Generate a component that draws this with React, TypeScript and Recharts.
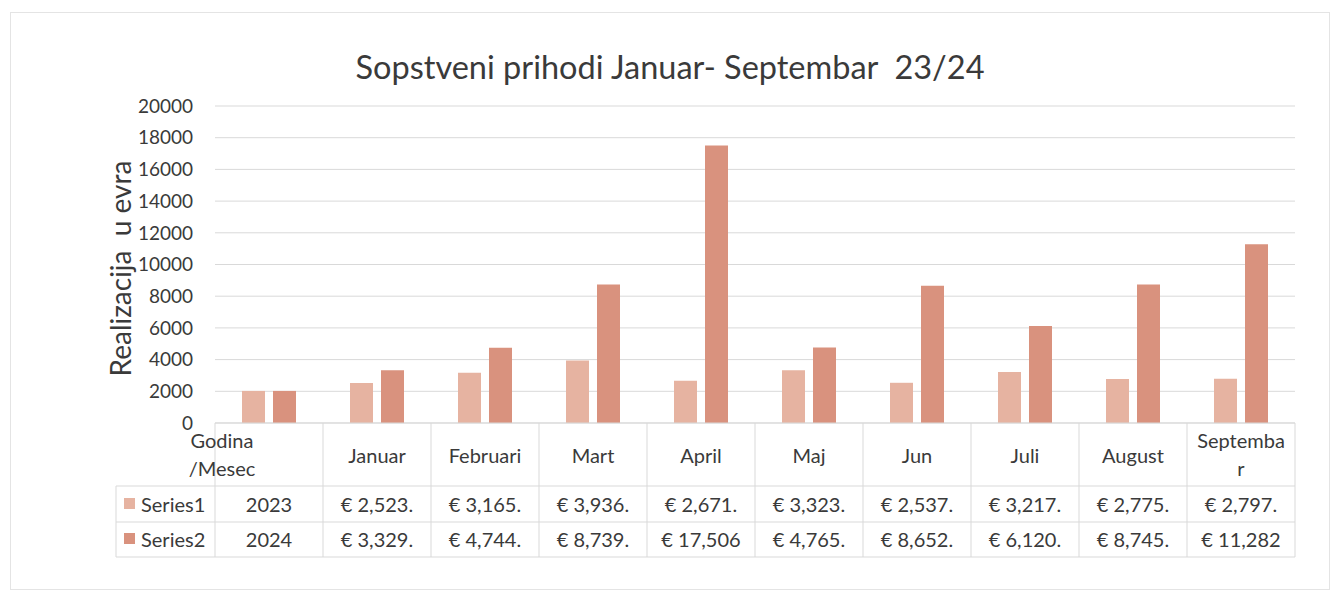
import React from "react";
import { BarChart, Bar, XAxis, YAxis, CartesianGrid, Label } from "recharts";

// kategorije (zaglavlje tabele) i vrednosti serija
const categories = ["Godina /Mesec", "Januar", "Februari", "Mart", "April", "Maj", "Jun", "Juli", "August", "Septembar"];
const headerLines = [["Godina", "/Mesec"], ["Januar"], ["Februari"], ["Mart"], ["April"], ["Maj"], ["Jun"], ["Juli"], ["August"], ["Septemba", "r"]];
const seriesNames = ["Series1", "Series2"];
const series1 = [2023, 2523, 3165, 3936, 2671, 3323, 2537, 3217, 2775, 2797];
const series2 = [2024, 3329, 4744, 8739, 17506, 4765, 8652, 6120, 8745, 11282];
const yTicks = [0, 2000, 4000, 6000, 8000, 10000, 12000, 14000, 16000, 18000, 20000];

const colors = ["#e6b3a1", "#d9927e"];
const FONT = "Lato, 'Open Sans', sans-serif";
const GRID = "#d9d9d9";
const TEXT = "#3a3a3a";

const W = 1335;
const H = 594;
const margin = { top: 106, right: 40, left: 115, bottom: 37 };
const Y_W = 100;
const X_H = 134;
const band = (W - margin.left - margin.right - Y_W) / categories.length;

const data = categories.map((name, i) => ({ name, s1: series1[i], s2: series2[i] }));

function fmtCell(v: number, i: number) {
  if (i === 0) return String(v);
  const s = v.toLocaleString("en-US");
  return v < 10000 ? `€ ${s}.` : `€ ${s}`;
}

function TableTick(props: any) {
  const { x, y, payload } = props;
  const i = payload.index;
  const left = x - band / 2;
  const right = x + band / 2;
  const r1 = y + 63;
  const r2 = y + 99;
  const bottom = y + 134;
  const lines = headerLines[i] || [payload.value];
  const hx = i === 0 ? (margin.left + right) / 2 + 3 : x;
  const vals = [series1[i], series2[i]];

  return (
    <g fontFamily={FONT} fontSize={20} fill={TEXT}>
      {/* linije tabele */}
      <line x1={right} y1={y} x2={right} y2={bottom} stroke={GRID} />
      <line x1={left} y1={r1} x2={right} y2={r1} stroke={GRID} />
      <line x1={left} y1={r2} x2={right} y2={r2} stroke={GRID} />
      <line x1={left} y1={bottom} x2={right} y2={bottom} stroke={GRID} />
      {i === 0 && (
        <g>
          <line x1={left} y1={y} x2={left} y2={bottom} stroke={GRID} />
          <line x1={margin.left + 1} y1={r1} x2={left} y2={r1} stroke={GRID} />
          <line x1={margin.left + 1} y1={r2} x2={left} y2={r2} stroke={GRID} />
          <line x1={margin.left + 1} y1={bottom} x2={left} y2={bottom} stroke={GRID} />
          <line x1={margin.left + 1} y1={r1} x2={margin.left + 1} y2={bottom} stroke={GRID} />
          {seriesNames.map((s, k) => (
            <g key={s}>
              <rect x={margin.left + 9} y={y + 75 + k * 35} width={11} height={11} fill={colors[k]} />
              <text x={margin.left + 26} y={y + 81 + k * 35} dominantBaseline="central" fill={TEXT}>
                {s}
              </text>
            </g>
          ))}
        </g>
      )}
      {lines.length === 1 ? (
        <text x={hx} y={y + 32} textAnchor="middle" dominantBaseline="central" fill={TEXT}>
          {lines[0]}
        </text>
      ) : (
        lines.map((l, k) => (
          <text key={k} x={hx} y={y + 17 + k * 28} textAnchor="middle" dominantBaseline="central" fill={TEXT}>
            {l}
          </text>
        ))
      )}
      {vals.map((v, k) => (
        <text key={k} x={x} y={y + 81 + k * 35} textAnchor="middle" dominantBaseline="central" fill={TEXT}>
          {fmtCell(v, i)}
        </text>
      ))}
    </g>
  );
}

function YLabel(props: any) {
  const vb = props.viewBox || { x: 115, y: 106, width: 100, height: 317 };
  const cx = vb.x + 5;
  const cy = vb.y + vb.height / 2 + 4;
  return (
    <text
      x={cx}
      y={cy}
      transform={`rotate(-90, ${cx}, ${cy})`}
      textAnchor="middle"
      dominantBaseline="central"
      fontFamily={FONT}
      fontSize={28}
      fill={TEXT}
      style={{ whiteSpace: "pre" }}
    >
      Realizacija  u evra
    </text>
  );
}

export default function App() {
  return (
    <div style={{ position: "absolute", left: 0, top: 0, width: W, height: H, background: "#fff" }}>
      <div
        style={{
          position: "absolute",
          left: 10,
          top: 12,
          width: 1320,
          height: 578,
          border: "1px solid #e4e4e4",
          boxSizing: "border-box",
        }}
      />
      <div
        style={{
          position: "absolute",
          left: 0,
          top: 47,
          width: 1340,
          textAlign: "center",
          fontFamily: FONT,
          fontSize: 32.5,
          color: TEXT,
          whiteSpace: "pre",
        }}
      >
        Sopstveni prihodi Januar- Septembar  23/24
      </div>
      <BarChart width={W} height={H} data={data} margin={margin} barGap={8} barSize={23}>
        <CartesianGrid vertical={false} stroke={GRID} />
        <XAxis
          dataKey="name"
          height={X_H}
          interval={0}
          tickLine={false}
          tickSize={0}
          tickMargin={0}
          axisLine={{ stroke: GRID }}
          tick={<TableTick />}
        />
        <YAxis
          width={Y_W}
          domain={[0, 20000]}
          ticks={yTicks}
          interval={0}
          axisLine={false}
          tickLine={false}
          tickSize={6}
          tickMargin={16}
          tick={{ fill: TEXT, fontSize: 19, fontFamily: FONT }}
        >
          <Label content={<YLabel />} />
        </YAxis>
        <Bar dataKey="s1" name={seriesNames[0]} fill={colors[0]} isAnimationActive={false} />
        <Bar dataKey="s2" name={seriesNames[1]} fill={colors[1]} isAnimationActive={false} />
      </BarChart>
    </div>
  );
}
